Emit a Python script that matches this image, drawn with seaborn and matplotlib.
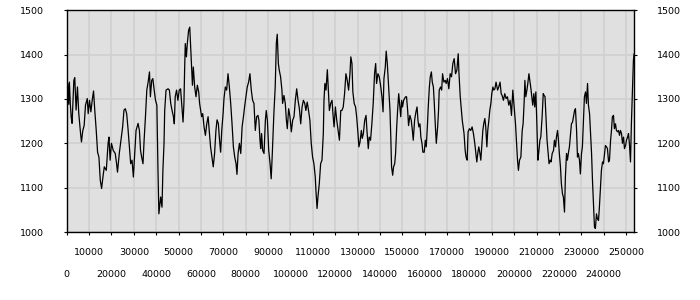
import numpy as np
import pandas as pd
import matplotlib
matplotlib.use("Agg")
import matplotlib.pyplot as plt
import seaborn as sns
from matplotlib.ticker import FixedLocator, FixedFormatter

# sample position (thousands) and value
x_thousands = [
    0.0, 0.5, 0.9, 1.2, 1.6, 2.0, 2.4, 3.2, 3.6, 4.2, 4.8, 5.4, 6.2, 6.6, 7.2, 7.8, 8.4, 9.2, 9.6, 10.2,
    10.8, 11.4, 12.0, 12.5, 13.2, 13.8, 14.4, 15.0, 15.6, 16.2, 16.8, 17.7, 18.5, 18.9, 19.4, 20.0, 20.8,
    21.7, 22.3, 22.7, 23.5, 24.4, 25.0, 25.6, 26.2, 26.8, 27.4, 28.0, 28.6, 29.2, 29.8, 30.4, 31.0, 31.9,
    32.5, 33.0, 33.5, 34.1, 34.6, 35.2, 35.8, 36.4, 37.0, 37.4, 38.0, 38.5, 39.1, 39.7, 40.3,
    40.8, 41.2, 42.0, 42.6, 43.0, 43.5, 43.8, 44.4, 45.3, 45.9, 46.5, 47.1, 47.7, 48.1, 48.5, 49.1, 49.7,
    50.3, 50.9, 51.5, 52.0, 52.4, 52.7, 53.0, 53.5, 53.9, 54.5, 55.0, 55.4, 55.7, 56.2, 56.6, 57.2, 57.8,
    58.4, 59.0, 59.4, 59.9, 60.3, 60.8, 61.4, 62.0, 62.6, 63.2, 63.8, 64.3, 64.9, 65.5, 66.1, 66.7, 67.2,
    67.8, 68.2, 68.8, 69.3, 69.9, 70.3, 70.9, 71.5, 72.1, 72.7, 73.3, 73.9, 74.5, 75.1, 75.7, 76.1, 76.6,
    77.2, 77.8, 78.4, 79.0, 79.5, 80.1, 80.7, 81.3, 81.9, 82.5, 83.1,
    83.7, 84.3, 84.9, 85.5, 85.9, 86.4, 86.7, 87.1, 87.6, 88.2, 88.8, 89.2, 89.7, 90.3, 90.9, 91.4, 91.9,
    92.6, 93.2, 93.7, 94.1, 94.6, 95.0, 95.6, 96.2, 96.5, 97.1, 97.7, 98.2, 98.6, 99.2, 99.8, 100.4, 101.0,
    101.6, 102.2, 102.8, 103.4, 104.0, 104.6, 105.2, 105.8, 106.4, 106.9, 107.5, 108.1, 108.7, 109.3,
    109.9, 110.5, 111.1, 111.4, 111.9, 112.3, 112.9, 113.5, 114.1, 114.7, 115.0, 115.4, 115.9, 116.5,
    116.9, 117.4, 118.0, 118.6, 119.0, 119.5, 120.1, 120.7, 121.3, 121.9, 122.5, 123.0, 123.6, 124.2,
    124.8, 125.4, 126.0,
    126.6, 127.0, 127.5, 127.9, 128.5, 129.1, 129.6, 130.2, 130.6, 131.1, 131.7, 132.1, 132.6, 133.2,
    133.8, 134.2, 134.8, 135.2, 135.8, 136.4, 137.0, 137.6, 138.1, 138.5, 139.1, 139.7, 140.3, 140.9,
    141.4, 141.8, 142.4, 142.8, 143.3, 143.9, 144.5, 144.9, 145.2, 145.7, 146.1, 146.6, 147.0, 147.5,
    147.9, 148.4, 148.8, 149.3, 149.7, 150.1, 150.6, 151.0, 151.5, 151.9, 152.4, 152.8, 153.4, 154.0,
    154.5, 154.9, 155.5, 156.1, 156.6, 157.0, 157.4, 157.9, 158.3, 158.8, 159.2, 159.8, 160.3, 160.7,
    161.2, 161.6, 162.1, 162.5, 163.0, 163.4, 163.9, 164.3, 164.8, 165.2, 165.8, 166.2, 166.5, 167.1,
    167.6, 168.0, 168.6, 169.2,
    169.6, 170.2, 170.8, 171.4, 172.0, 172.6, 173.2, 173.8, 174.4, 175.0, 175.3, 175.9, 176.3, 176.8,
    177.2, 177.6, 178.1, 178.5, 179.0, 179.4, 180.0, 180.6, 181.2, 181.8, 182.4, 182.9, 183.3, 183.8,
    184.2, 184.7, 185.1, 185.5, 186.0, 186.4, 186.9, 187.3, 187.8, 188.2, 188.7, 189.1, 189.6, 190.0,
    190.5, 190.9, 191.4, 191.9, 192.6, 193.1, 193.7, 194.2, 194.6, 195.2, 195.8, 196.4, 197.0, 197.6,
    198.2, 198.8, 199.4, 200.0, 200.6, 201.0, 201.5, 201.9, 202.4, 203.0, 203.6, 204.0, 204.5, 204.8,
    205.2, 205.7, 206.1, 206.6, 207.0, 207.5, 207.9, 208.3, 208.8, 209.2, 209.7, 210.1, 210.6, 211.0,
    211.5, 211.9,
    212.5, 213.0, 213.4, 213.8, 214.3, 214.7, 215.2, 215.6, 216.1, 216.5, 217.0, 217.6, 218.0, 218.5,
    218.9, 219.4, 219.8, 220.2, 220.7, 221.1, 221.6, 222.0, 222.5, 222.9, 223.4, 223.8, 224.3, 224.7,
    225.2, 225.6, 226.1, 226.5, 227.0, 227.4, 227.9, 228.3, 228.7, 229.2, 229.6, 230.1, 230.5, 231.0,
    231.4, 231.9, 232.3, 232.8, 233.2, 233.7, 234.1, 234.6, 235.0, 235.5, 235.9, 236.3, 236.8, 237.2,
    237.7, 238.1, 238.6, 239.0, 239.5, 239.9, 240.4, 240.8, 241.3, 241.7, 242.2, 242.6, 243.1, 243.5,
    243.9, 244.4, 244.8, 245.3, 245.7, 246.2, 246.6, 247.1, 247.5, 248.0, 248.4, 248.9, 249.3, 249.8,
    250.2, 250.7, 251.1, 251.5, 252.0, 252.4, 252.9, 253.3, 253.6,
]
values = [
    1300, 1335, 1288, 1338, 1290, 1260, 1245, 1342, 1348, 1275, 1327, 1267, 1222, 1203, 1229, 1240, 1286, 1301, 1267, 1297,
    1271, 1297, 1318, 1278, 1229, 1180, 1169, 1117, 1098, 1124, 1147, 1139, 1200, 1214, 1162, 1200, 1184,
    1177, 1154, 1135, 1177, 1214, 1237, 1275, 1278, 1267, 1233, 1192, 1154, 1162, 1124, 1177, 1229, 1245,
    1229, 1184, 1169, 1154, 1207, 1260, 1320, 1338, 1361, 1305, 1342, 1346, 1320, 1297, 1286,
    1139, 1041, 1079, 1056, 1139, 1200, 1274, 1320, 1323, 1320, 1290, 1274, 1260, 1244, 1305, 1320, 1297,
    1320, 1323, 1282, 1248, 1290, 1365, 1425, 1395, 1425, 1455, 1462, 1417, 1387, 1331, 1372, 1327, 1305,
    1331, 1316, 1290, 1274, 1260, 1267, 1237, 1218, 1244, 1260, 1222, 1192, 1169, 1147, 1177, 1229, 1253,
    1244, 1214, 1180, 1229, 1267, 1301, 1327, 1320, 1357, 1327, 1290, 1244, 1192, 1169, 1154, 1130, 1177,
    1200, 1177, 1237, 1260, 1282, 1305, 1327, 1338, 1357, 1320, 1297,
    1290, 1229, 1260, 1263, 1252, 1207, 1188, 1222, 1184, 1177, 1252, 1274, 1252, 1184, 1154, 1120, 1177,
    1267, 1327, 1425, 1446, 1380, 1365, 1350, 1320, 1290, 1308, 1290, 1252, 1233, 1278, 1260, 1226, 1252,
    1260, 1297, 1323, 1297, 1278, 1244, 1282, 1297, 1290, 1274, 1293, 1274, 1252, 1200,
    1169, 1154, 1124, 1094, 1053, 1079, 1109, 1154, 1162, 1222, 1297, 1335, 1320, 1366,
    1327, 1274, 1290, 1297, 1267, 1237, 1282, 1252, 1229, 1207, 1274, 1274, 1282, 1312,
    1357, 1342, 1320,
    1357, 1395, 1380, 1316, 1290, 1282, 1260, 1222, 1192, 1203, 1229, 1211, 1222, 1252,
    1263, 1229, 1188, 1214, 1207, 1244, 1290, 1357, 1380, 1335, 1357, 1350, 1331, 1305,
    1271, 1346, 1372, 1408, 1380, 1327, 1274, 1207, 1147, 1128, 1147, 1154, 1177, 1237,
    1274, 1312, 1290, 1260, 1297, 1282, 1297, 1301, 1305, 1305, 1274, 1240, 1263, 1252,
    1229, 1207, 1252, 1271, 1282, 1252, 1237, 1244, 1214, 1200, 1180, 1180, 1207, 1192,
    1237, 1282, 1327, 1350, 1361, 1338, 1327, 1290, 1237, 1200, 1237, 1274, 1320, 1327,
    1320, 1357, 1338, 1342,
    1335, 1346, 1323, 1357, 1350, 1380, 1391, 1357, 1365, 1402, 1361, 1305, 1282, 1252,
    1237, 1222, 1184, 1169, 1162, 1226, 1233, 1229, 1237, 1222, 1200, 1177, 1158, 1180,
    1192, 1177, 1162, 1192, 1229, 1244, 1256, 1237, 1192, 1229, 1252, 1274, 1290, 1312,
    1327, 1320, 1323, 1338, 1320, 1327, 1338, 1312, 1308, 1297, 1312, 1301, 1305, 1286,
    1297, 1263, 1320, 1282, 1244, 1207, 1162, 1139, 1162, 1169, 1229, 1244, 1297, 1342,
    1305, 1320, 1335, 1357, 1342, 1323, 1305, 1286, 1312, 1282, 1316, 1252, 1162, 1180,
    1207, 1214,
    1260, 1312, 1308, 1305, 1252, 1207, 1177, 1154, 1162, 1158, 1177, 1184, 1207, 1192,
    1214, 1229, 1207, 1177, 1147, 1109, 1086, 1079, 1045, 1124, 1177, 1162, 1180, 1192,
    1222, 1244, 1248, 1260, 1274, 1278, 1229, 1169, 1177, 1162, 1131, 1177, 1192, 1252,
    1305, 1316, 1290, 1335, 1286, 1267, 1229, 1177, 1117, 1056, 1011, 1008, 1041, 1030,
    1026, 1056, 1101, 1139, 1158, 1154, 1177, 1195, 1192, 1188, 1158, 1162, 1207, 1229,
    1260, 1263, 1233, 1244, 1229, 1226, 1229, 1218, 1229, 1222, 1200, 1214, 1188, 1195,
    1207, 1214, 1222, 1200, 1158, 1244, 1327, 1387, 1402,
]

x_limit = 253700
y_limits = (1000, 1500)
y_ticks = [1000, 1100, 1200, 1300, 1400, 1500]
x_ticks_lower = list(range(0, 250000, 20000))      # second row labels
x_ticks_upper = list(range(10000, 260000, 20000))  # first row labels

sns.set_style("darkgrid")
plt.rcParams["font.family"] = ["DejaVu Sans"]

fig = plt.figure(figsize=(7, 3), dpi=100)
ax = fig.add_axes([66.7 / 700, 68 / 300, (634.3 - 66.7) / 700, (232 - 10.3) / 300])

df = pd.DataFrame({"x": np.array(x_thousands) * 1000, "y": values})
sns.lineplot(data=df, x="x", y="y", color="black", linewidth=0.9,
             estimator=None, sort=False, ax=ax)

ax.set_facecolor("#e0e0e0")
ax.set_xlim(0, x_limit)
ax.set_ylim(*y_limits)
ax.set_xlabel("")
ax.set_ylabel("")

ax.xaxis.set_major_locator(FixedLocator(x_ticks_lower))
ax.xaxis.set_major_formatter(FixedFormatter([str(t) for t in x_ticks_lower]))
ax.xaxis.set_minor_locator(FixedLocator(x_ticks_upper))
ax.xaxis.set_minor_formatter(FixedFormatter([str(t) for t in x_ticks_upper]))
ax.set_yticks(y_ticks)
ax.set_yticklabels([str(t) for t in y_ticks])

ax.grid(False)
ax.grid(axis="x", which="both", color="#d0d0d0", linewidth=1.2)
ax.grid(axis="y", which="major", color="#d0d0d0", linewidth=1.2)
ax.set_axisbelow(True)

fs = 6.8
ax.tick_params(axis="x", which="major", bottom=True, length=2.2, width=0.8, color="black",
               pad=25.5, labelsize=fs, labelcolor="black")
ax.tick_params(axis="x", which="minor", bottom=True, length=2.2, width=0.8, color="black",
               pad=9.0, labelsize=fs, labelcolor="black")
ax.tick_params(axis="y", which="major", left=True, right=True, labelleft=True, labelright=True,
               length=2.2, width=0.8, color="black", pad=14, labelsize=fs, labelcolor="black")

for s in ax.spines.values():
    s.set_visible(True)
    s.set_color("black")
    s.set_linewidth(1.0)

fig.patch.set_facecolor("white")
fig.savefig("out.png", dpi=100)
